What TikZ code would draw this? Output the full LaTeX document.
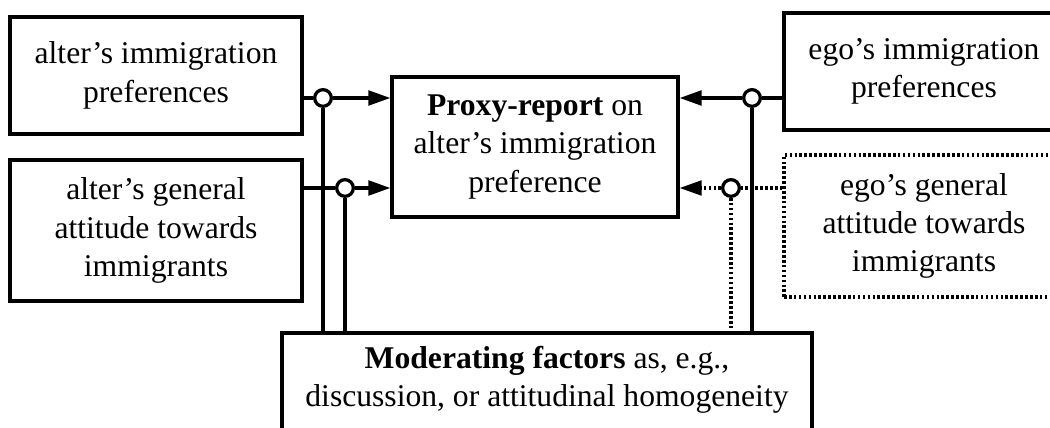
\documentclass[tikz,border=0pt]{standalone}
\usepackage{fontspec}
\setmainfont{Liberation Serif}
\usetikzlibrary{arrows.meta,positioning}

\begin{document}
\begin{tikzpicture}
[box/.style={draw=black,line width=1.4pt,align=center,inner sep=0pt,font=\fontsize{13.5}{16.4}\selectfont},
 dotbox/.style={box,line width=1.3pt,dash pattern=on 1.1pt off 1pt},
 knot/.style={circle,draw=black,fill=white,line width=1.4pt,inner sep=0pt,minimum size=0.25cm},
 link/.style={line width=1.4pt},
 dotlink/.style={line width=1.3pt,dash pattern=on 1.1pt off 1pt},
 tip/.style={-{Triangle[length=0.33cm,width=0.22cm]}}]

\clip (0,0) rectangle (15.75,-6.42);

% boxes
\node[box,minimum width=4.38cm,minimum height=1.755cm] (altpref) at (2.34,-1.1325) {alter’s immigration\\preferences};
\node[box,minimum width=4.38cm,minimum height=2.115cm] (altatt) at (2.34,-3.4575) {alter’s general\\attitude towards\\immigrants};
\node[box,minimum width=4.29cm,minimum height=2.1cm] (proxy) at (8.025,-2.205) {\textbf{Proxy-report} on\\alter’s immigration\\preference};
\node[box,minimum width=4.2cm,minimum height=1.755cm] (egopref) at (13.86,-1.0725) {ego’s immigration\\preferences};
\node[dotbox,minimum width=4.2cm,minimum height=2.13cm] (egoatt) at (13.86,-3.39) {ego’s general\\attitude towards\\immigrants};
\node[box,minimum width=7.95cm,minimum height=1.905cm] (mod) at (8.205,-5.9475) {};
\node[font=\fontsize{13.5}{16.4}\selectfont,align=center,inner sep=0pt] (modtext) at (8.205,-5.70) {\textbf{Moderating factors} as, e.g.,\\discussion, or attitudinal homogeneity};

% junctions
\node[knot] (k1) at (4.845,-1.47) {};
\node[knot] (k2) at (5.175,-2.82) {};
\node[knot] (k3) at (11.28,-1.47) {};
\node[knot] (k4) at (10.965,-2.82) {};

% moderating lines
\draw[link] (k1) -- (k1 |- mod.north);
\draw[link] (k2) -- (k2 |- mod.north);
\draw[link] (k3) -- (k3 |- mod.north);
\draw[dotlink] (k4) -- (k4 |- mod.north);

% paths into proxy
\draw[link] (k1 -| altpref.east) -- (k1);
\draw[link,tip] (k1) -- (k1 -| proxy.west);
\draw[link] (k2 -| altatt.east) -- (k2);
\draw[link,tip] (k2) -- (k2 -| proxy.west);
\draw[link] (k3 -| egopref.west) -- (k3);
\draw[link,tip] (k3) -- (k3 -| proxy.east);
\draw[dotlink] (k4 -| egoatt.west) -- (k4);
\draw[dotlink,tip] (k4) -- (k4 -| proxy.east);
\end{tikzpicture}
\end{document}
